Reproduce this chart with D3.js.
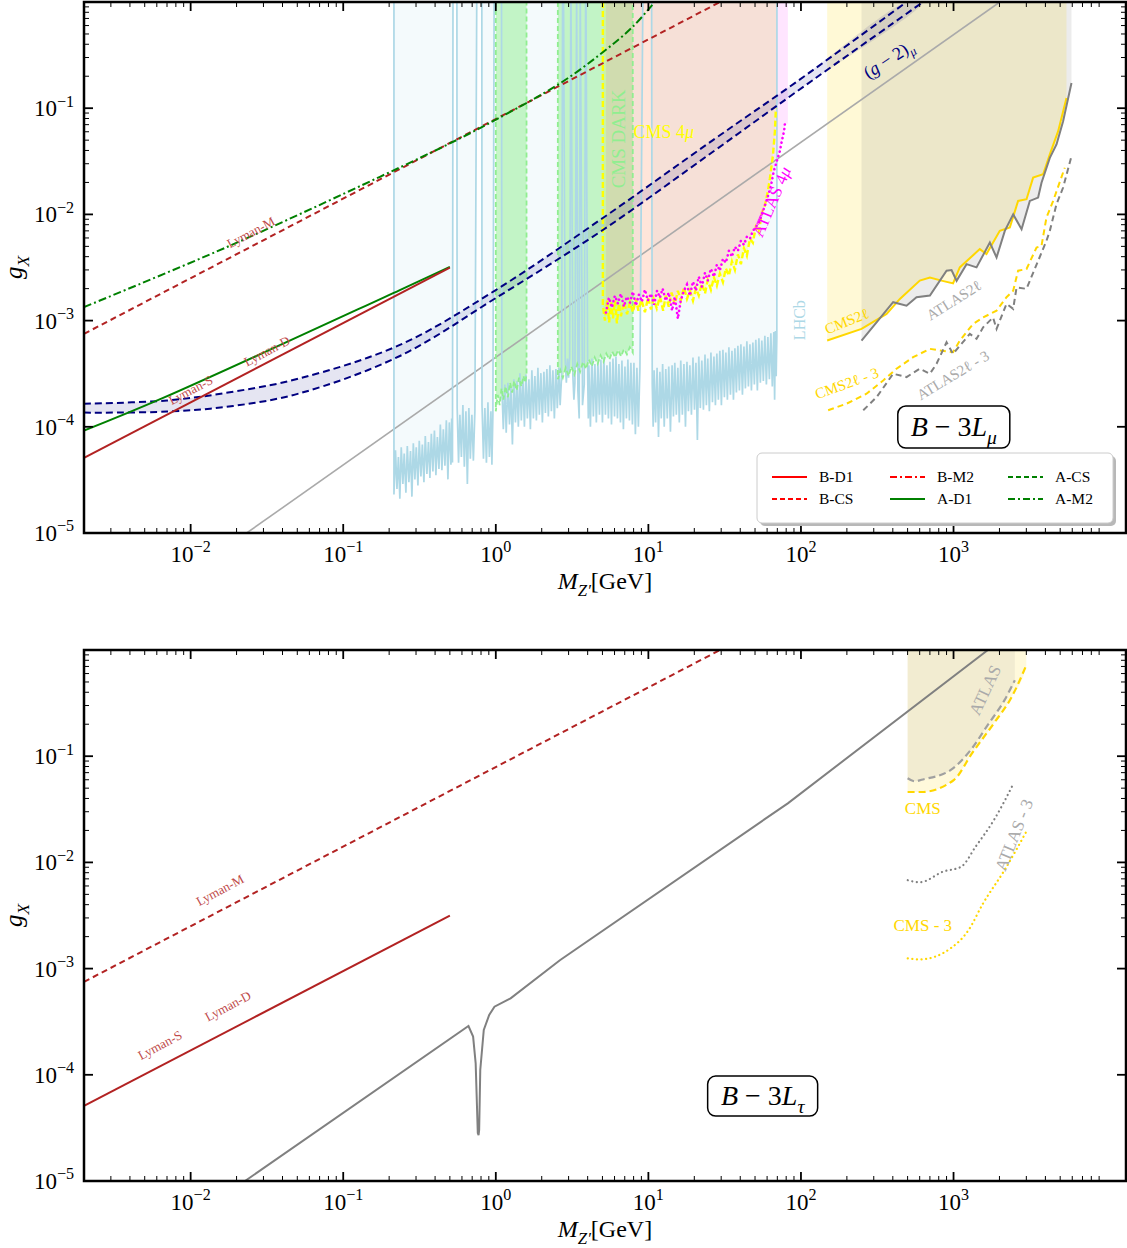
<!DOCTYPE html>
<html>
<head>
<meta charset="utf-8">
<script src="https://cdn.jsdelivr.net/npm/d3@7"></script>
<style>
  body { margin: 0; background: #fff; }
  svg { display: block; font-family: "Liberation Serif", "DejaVu Serif", serif; }
</style>
</head>
<body>
<svg id="chart" width="1127" height="1248"></svg>
<script>
// ---------------- data (mass in GeV, coupling g_X) ----------------
const xTicksMajor = [1e-2, 1e-1, 1, 10, 100, 1000];
const yTicksMajor = [1e-5, 1e-4, 1e-3, 1e-2, 1e-1];

// Lyman-alpha bounds (same in both panels)
const lymanD_B = [[0.002, 5.1e-5], [0.5, 3.15e-3]];
const lymanD_A = [[0.002, 9.2e-5], [0.0066, 1.87e-4], [0.235, 1.94e-3], [0.5, 3.2e-3]];
const lymanM_B = [[0.002, 7.5e-4], [29.5, 1]];
const lymanM_A = [[0.002, 1.34e-3], [0.0173, 4.93e-3], [0.174, 0.0226], [0.553, 0.0501], [1.01, 0.0786],
                  [2.63, 0.171], [4.93, 0.329], [7.9, 0.585], [11.0, 1.0]];

// (g-2)_mu band
const g2Upper = [[0.002, 1.65e-4], [0.007, 1.77e-4], [0.019, 2.14e-4], [0.052, 2.86e-4], [0.235, 5.9e-4],
                 [1.0, 1.94e-3], [5.03, 9.25e-3], [26.5, 0.0501], [93.5, 0.177], [492, 1]];
const g2Lower = [[0.002, 1.36e-4], [0.007, 1.39e-4], [0.019, 1.57e-4], [0.052, 2.07e-4], [0.235, 4.64e-4],
                 [1.0, 1.63e-3], [5.03, 7.13e-3], [26.5, 0.0389], [93.5, 0.143], [631, 1]];
const muGray = [[0.0233, 1e-5], [2010, 1]];

// LHCb dark photon search (noisy limit, spikes go up to 1)
const lhcb = [[0.215,1],[0.215,2.3e-5],[0.22,6.0e-5],[0.225,2.6e-5],[0.23,5.2e-5],[0.235,2.1e-5],[0.24,6.4e-5],
  [0.246,2.9e-5],[0.251,5.6e-5],[0.2575,2.4e-5],[0.263,6.6e-5],[0.2694,3.0e-5],[0.276,5.9e-5],[0.282,2.2e-5],
  [0.288,7.0e-5],[0.295,3.2e-5],[0.301,6.4e-5],[0.3087,2.8e-5],[0.315,7.4e-5],[0.323,3.4e-5],[0.33,6.8e-5],
  [0.338,3.0e-5],[0.345,8.2e-5],[0.3535,3.6e-5],[0.362,7.2e-5],[0.37,3.3e-5],[0.378,8.6e-5],[0.387,3.8e-5],
  [0.396,9.2e-5],[0.405,3.5e-5],[0.414,8.0e-5],[0.424,4.0e-5],[0.433,1.05e-4],[0.4434,3.9e-5],[0.453,9.5e-5],
  [0.464,4.3e-5],[0.474,1.15e-4],[0.4855,3.2e-5],[0.496,1.1e-4],[0.508,4.4e-5],[0.514,1.2e-4],[0.52,4.6e-5],
  [0.524,1],[0.556,1],
  [0.558,1.5e-4],[0.57,4.6e-5],[0.5816,1.3e-4],[0.595,5.2e-5],[0.6086,1.6e-4],[0.622,4.2e-5],[0.637,1.4e-4],
  [0.651,2.9e-5],[0.666,1.5e-4],[0.681,5.0e-5],[0.697,1.3e-4],[0.713,4.8e-5],[0.7295,1.4e-4],
  [0.75,1],[0.81,1],
  [0.812,1.6e-4],[0.83,5.0e-5],[0.848,1.5e-4],[0.868,4.6e-5],[0.888,1.7e-4],[0.908,5.2e-5],[0.929,1.4e-4],
  [0.943,4.4e-5],[0.957,1.3e-4],
  [0.975,1],[1.09,1],
  [1.096,2.3e-4],[1.12,9.5e-5],[1.147,2.5e-4],[1.17,8.8e-5],[1.2,2.6e-4],[1.23,1.05e-4],[1.256,2.4e-4],[1.285,6.8e-5],
  [1.314,2.8e-4],[1.345,1.1e-4],[1.375,2.7e-4],[1.405,1.0e-4],[1.439,3.2e-4],[1.47,1.15e-4],[1.505,2.9e-4],
  [1.54,1.0e-4],[1.575,3.1e-4],[1.61,1.2e-4],[1.648,2.8e-4],[1.685,9.5e-5],[1.724,3.4e-4],[1.764,1.2e-4],
  [1.804,3.0e-4],[1.845,1.15e-4],[1.888,3.6e-4],[1.93,1.3e-4],[1.975,3.2e-4],[2.02,1.1e-4],[2.067,3.3e-4],
  [2.114,1.35e-4],[2.162,3.5e-4],[2.21,1.25e-4],[2.262,3.8e-4],[2.314,1.4e-4],[2.367,3.4e-4],[2.42,1.2e-4],
  [2.477,3.5e-4],[2.53,1.5e-4],[2.592,3.6e-4],[2.64,1.6e-4],[2.7,3.0e-4],
  [2.74,1],[2.78,1],[2.85,4.2e-4],[2.9,2.6e-4],[2.95,4.4e-4],[3.0,2.9e-4],[3.05,4.5e-4],[3.1,1],[3.11,1],
  [3.2,3.0e-4],[3.25,1.8e-4],[3.3,2.6e-4],[3.385,1],[3.39,1],[3.45,2.2e-4],[3.52,1.2e-4],[3.573,1],[3.58,1],
  [3.7,1.6e-4],[3.8,2.5e-4],[3.878,1],[3.9,1],
  [4.0,3.0e-4],[4.04,1.2e-4],[4.075,3.8e-4],[4.17,1.0e-4],[4.265,4.4e-4],[4.36,1.25e-4],[4.462,3.9e-4],[4.56,1.1e-4],
  [4.669,4.0e-4],[4.78,1.3e-4],[4.885,4.3e-4],[5.0,1.1e-4],[5.11,4.5e-4],[5.23,1.3e-4],[5.35,3.8e-4],[5.47,1.2e-4],
  [5.6,4.1e-4],[5.73,1.05e-4],[5.86,4.4e-4],[6.0,1.25e-4],[6.13,4.6e-4],[6.27,1.2e-4],[6.41,3.9e-4],[6.56,1.1e-4],
  [6.71,4.2e-4],[6.86,9.5e-5],[7.02,3.7e-4],[7.18,1.2e-4],[7.34,4.3e-4],[7.51,1.15e-4],[7.68,4.0e-4],[7.86,1.05e-4],
  [8.04,4.0e-4],[8.22,8.5e-5],[8.41,3.6e-4],[8.6,1.0e-4],[8.8,3.5e-4],
  [9.2,1],[10.5,1],
  [10.6,2.5e-4],[10.75,1.0e-4],[10.9,3.4e-4],[11.15,1.1e-4],[11.4,3.6e-4],[11.65,8.0e-5],[11.9,3.3e-4],[12.15,1.2e-4],
  [12.4,3.9e-4],[12.7,1.0e-4],[13.0,3.5e-4],[13.3,1.2e-4],[13.6,3.7e-4],[13.95,9.0e-5],[14.3,3.8e-4],[14.6,1.25e-4],
  [14.9,4.0e-4],[15.25,1.3e-4],[15.6,3.6e-4],[15.95,1.1e-4],[16.3,4.2e-4],[16.7,1.3e-4],[17.1,3.9e-4],[17.5,1.0e-4],
  [17.9,4.1e-4],[18.3,1.4e-4],[18.7,3.8e-4],[19.15,1.3e-4],[19.6,4.5e-4],[20.05,1.45e-4],[20.5,4.0e-4],[20.95,7.5e-5],
  [21.4,4.6e-4],[21.9,1.5e-4],[22.4,4.2e-4],[22.95,1.45e-4],[23.5,4.8e-4],[24.0,1.6e-4],[24.5,4.4e-4],[25.1,1.4e-4],
  [25.7,5.0e-4],[26.3,1.7e-4],[26.9,4.6e-4],[27.5,1.6e-4],[28.1,4.9e-4],[28.75,1.8e-4],[29.4,5.2e-4],[30.1,1.6e-4],
  [30.8,5.3e-4],[31.5,1.9e-4],[32.2,5.0e-4],[32.95,1.8e-4],[33.7,5.6e-4],[34.5,2.0e-4],[35.3,5.2e-4],[36.1,1.8e-4],
  [36.9,5.5e-4],[37.75,2.1e-4],[38.6,5.8e-4],[39.5,2.2e-4],[40.4,6.0e-4],[41.35,2.0e-4],[42.3,5.7e-4],[43.25,2.3e-4],
  [44.2,6.4e-4],[45.25,2.4e-4],[46.3,6.0e-4],[47.35,2.2e-4],[48.4,6.2e-4],[49.5,2.5e-4],[50.6,6.6e-4],[51.8,2.2e-4],
  [53.0,6.8e-4],[54.2,2.6e-4],[55.4,6.5e-4],[56.7,2.7e-4],[58.0,7.2e-4],[59.35,2.5e-4],[60.7,7.0e-4],[62.1,2.8e-4],
  [63.5,7.6e-4],[64.9,2.4e-4],[66.4,7.8e-4],[67.2,1.8e-4],[68.0,8.0e-4],[68.8,3.0e-4],[69.5,7.0e-4],[69.6,1]];

// CMS dark photon (two windows, lower edge)
const cmsDark1 = [[1.0,1.4e-4],[1.03,2.0e-4],[1.06,1.6e-4],[1.09,2.3e-4],[1.12,1.8e-4],[1.16,2.4e-4],[1.2,1.9e-4],
  [1.24,2.6e-4],[1.28,2.1e-4],[1.32,2.7e-4],[1.37,2.2e-4],[1.42,2.9e-4],[1.47,2.4e-4],[1.52,3.0e-4],[1.56,2.6e-4],[1.59,3.1e-4]];
const cmsDark2 = [[2.55,2.8e-4],[2.65,3.4e-4],[2.75,2.9e-4],[2.87,3.6e-4],[3.0,3.0e-4],[3.13,3.7e-4],[3.27,3.1e-4],
  [3.42,3.9e-4],[3.57,3.3e-4],[3.73,4.1e-4],[3.9,3.5e-4],[4.07,4.3e-4],[4.26,3.7e-4],[4.45,4.5e-4],[4.65,3.9e-4],
  [4.86,4.7e-4],[5.08,4.1e-4],[5.3,4.9e-4],[5.55,4.3e-4],[5.8,5.1e-4],[6.06,4.5e-4],[6.33,5.3e-4],[6.62,4.6e-4],
  [6.92,5.4e-4],[7.23,4.8e-4],[7.55,5.6e-4],[7.9,5.0e-4]];

// CMS 4mu and ATLAS 4mu
const cms4mu = [[5.03,1],[5.03,1.38e-3],[5.19,1.0e-3],[5.37,1.54e-3],[5.53,9.6e-4],[5.69,1.48e-3],[5.86,1.05e-3],
  [6.04,1.54e-3],[6.22,9.4e-4],[6.41,1.45e-3],[6.61,1.1e-3],[6.92,1.5e-3],[7.25,1.15e-3],[7.57,1.48e-3],[7.92,1.2e-3],
  [8.29,1.6e-3],[8.6,1.24e-3],[9.0,1.57e-3],[9.49,1.2e-3],[9.95,1.65e-3],[10.4,1.27e-3],[10.8,1.6e-3],[11.35,1.3e-3],
  [11.9,1.68e-3],[12.5,1.24e-3],[13.0,1.72e-3],[13.6,1.35e-3],[14.2,1.84e-3],[14.9,1.42e-3],[15.6,1.91e-3],
  [16.3,1.54e-3],[17.1,2.05e-3],[17.9,1.6e-3],[18.7,1.91e-3],[19.6,1.54e-3],[20.5,2.0e-3],[21.4,1.72e-3],
  [22.4,2.23e-3],[23.5,1.8e-3],[24.5,2.4e-3],[25.7,1.95e-3],[26.9,2.55e-3],[28.1,2.13e-3],[29.4,2.77e-3],
  [30.8,2.3e-3],[32.2,3.1e-3],[33.7,2.65e-3],[35.3,3.6e-3],[36.9,3.0e-3],[38.6,4.2e-3],[40.4,3.4e-3],[42.3,4.8e-3],
  [44.2,4.08e-3],[46.3,5.9e-3],[48.4,5.4e-3],[50.6,7.6e-3],[53.0,6.7e-3],[55.4,0.0105],[58.0,0.0121],[60.7,0.0166],
  [62.6,0.0219],[65.5,0.0357],[67.5,0.0608],[68.5,0.1]];
const atlas4mu = [[5.27,1.19e-3],[5.51,1.645e-3],[5.77,1.325e-3],[6.03,1.717e-3],[6.31,1.444e-3],[6.6,1.793e-3],
  [6.91,1.354e-3],[7.23,1.68e-3],[7.57,1.476e-3],[7.91,1.873e-3],[8.28,1.383e-3],[8.67,1.755e-3],[9.07,1.508e-3],
  [9.49,1.956e-3],[9.92,1.541e-3],[10.4,1.793e-3],[10.9,1.413e-3],[11.4,1.914e-3],[11.9,1.645e-3],[12.4,1.999e-3],
  [13.0,1.541e-3],[13.6,1.833e-3],[14.3,1.241e-3],[14.9,1.68e-3],[15.6,1.04e-3],[16.3,1.541e-3],[17.1,1.914e-3],
  [17.9,2.18e-3],[18.7,1.717e-3],[19.6,2.33e-3],[20.5,1.914e-3],[21.4,2.59e-3],[22.4,2.088e-3],[23.5,2.82e-3],
  [24.5,2.38e-3],[25.7,3.08e-3],[26.9,2.59e-3],[28.1,3.36e-3],[29.4,2.95e-3],[30.8,3.82e-3],[32.2,3.51e-3],
  [33.7,4.54e-3],[35.3,3.99e-3],[36.9,4.95e-3],[38.6,4.54e-3],[40.4,5.64e-3],[42.3,5.17e-3],[44.2,6.15e-3],
  [46.3,5.89e-3],[48.4,7.0e-3],[50.6,7.63e-3],[53.0,8.32e-3],[55.4,9.9e-3],[58.0,0.0121],[60.7,0.0148],
  [63.5,0.0184],[66.4,0.0256],[69.5,0.0318],[72.7,0.0394],[74.9,0.049],[77.5,0.0608],[78.5,0.0713]];

// dilepton searches, B-3L_mu
const cms2l = [[148.5,6.49e-4],[249.5,8.36e-4],[364,1.156e-3],[445,1.6e-3],[601,2.38e-3],[700,2.55e-3],[834,2.38e-3],
  [993,2.24e-3],[1099,3.17e-3],[1486,4.71e-3],[1644,4.23e-3],[2010,7.0e-3],[2338,7.52e-3],[2650,0.0134],[3008,0.0139],
  [3324,0.0222],[3866,0.0239],[4276,0.0367],[4850,0.0608],[5500,0.125]];
const atlas2l = [[249.5,6.49e-4],[402,1.49e-3],[492,1.38e-3],[572,1.66e-3],[700,1.72e-3],[900,2.95e-3],[970,2.99e-3],
  [1047,2.37e-3],[1217,3.4e-3],[1415,3.17e-3],[1730,5.44e-3],[1914,3.93e-3],[2168,7.0e-3],[2460,0.01],[2792,7.26e-3],
  [3162,0.0134],[3584,0.0144],[3772,0.0199],[4276,0.0341],[4730,0.0456],[5226,0.0755],[5930,0.173]];
const cms2l3 = [[150.7,1.43e-4],[199,1.65e-4],[269,2.05e-4],[346,2.73e-4],[423,3.52e-4],[543,4.52e-4],[700,5.42e-4],
  [813,5.23e-4],[993,5.04e-4],[1099,6.49e-4],[1343,9.3e-4],[1563,1.07e-3],[1914,1.24e-3],[2224,1.66e-3],[2460,1.91e-3],
  [2650,2.95e-3],[3008,3.06e-3],[3500,4.88e-3],[3772,5.06e-3],[4064,9.33e-3],[4498,0.0134],[5358,0.0275]];
const atlas2l3 = [[256,1.43e-4],[313,1.9e-4],[402,3.16e-4],[492,2.94e-4],[601,3.52e-4],[700,3.16e-4],[774,3.92e-4],
  [900,6.25e-4],[993,4.87e-4],[1279,7.5e-4],[1415,6.73e-4],[1563,8.65e-4],[1816,1.07e-3],[1914,8.36e-4],[2224,1.44e-3],
  [2460,1.29e-3],[2588,2.05e-3],[3008,1.99e-3],[4064,5.64e-3],[4276,7.0e-3],[4730,0.0125],[5226,0.0179],[5930,0.0354]];

// B-3L_tau panel
const tauGray = [[0.0227,1e-5],[0.662,2.88e-4],[0.71,2.29e-4],[0.738,1.28e-4],[0.762,2.83e-5],[0.771,2.71e-5],
  [0.778,3.02e-5],[0.791,1.11e-4],[0.834,2.64e-4],[0.905,3.66e-4],[0.98,4.38e-4],[1.25,5.25e-4],[2.63,1.2e-3],
  [82,0.036],[1680,1]];
const cmsTau = [[500,0.046],[617,0.046],[1008,0.06],[1324,0.107],[1837,0.204],[2410,0.363],[3000,0.72]];
const atlasTau = [[500,0.062],[560,0.058],[617,0.06],[955,0.074],[1324,0.119],[1648,0.19],[2163,0.339],[2523,0.52]];
const cmsTau3 = [[501,1.25e-3],[600,1.22e-3],[955,1.55e-3],[1253,2.3e-3],[1560,4.1e-3],[2163,8.5e-3],[3000,0.0195]];
const atlasTau3 = [[501,6.8e-3],[601,6.5e-3],[857,8.2e-3],[1122,9.1e-3],[1397,0.0141],[1837,0.025],[2477,0.0556]];

const legendItems = [
  { label: 'B-D1', color: '#ff0000', dash: null },
  { label: 'B-M2', color: '#ff0000', dash: '7,3,2,3' },
  { label: 'A-CS', color: '#008000', dash: '5,3' },
  { label: 'B-CS', color: '#ff0000', dash: '5,3' },
  { label: 'A-D1', color: '#008000', dash: null },
  { label: 'A-M2', color: '#008000', dash: '7,3,2,3' }
];

// ---------------- layout ----------------
const left = 84, right = 1126;
const svg = d3.select('#chart');
const x = d3.scaleLog().domain([2e-3, 1.35e4]).range([left, right]);

const BROWN = '#b22222', GREEN = '#008000';

// write text with italic / sub / sup pieces
function rich(sel, parts, size) {
  let shift = 0;
  parts.forEach(p => {
    const target = p.sub ? size * 0.28 : p.sup ? -size * 0.42 : 0;
    const t = sel.append('tspan').text(p.t).attr('dy', target - shift);
    shift = target;
    if (p.sub || p.sup) t.attr('font-size', size * 0.7);
    if (p.i) t.attr('font-style', 'italic');
  });
}

function makePanel(id, top, bottom) {
  const y = d3.scaleLog().domain([1e-5, 1]).range([bottom, top]);
  svg.append('clipPath').attr('id', 'clip-' + id)
    .append('rect').attr('x', left).attr('y', top).attr('width', right - left).attr('height', bottom - top);
  const g = svg.append('g').attr('clip-path', 'url(#clip-' + id + ')');
  const line = d3.line().x(d => x(d[0])).y(d => y(d[1]));
  return { y, g, line, top, bottom };
}

function toTop(pts) {
  return pts.concat([[pts[pts.length - 1][0], 1], [pts[0][0], 1]]);
}

function drawLine(p, pts, color, width, dash, curve) {
  const ln = p.line.curve(curve || d3.curveLinear);
  const path = p.g.append('path').attr('d', ln(pts)).attr('fill', 'none')
    .attr('stroke', color).attr('stroke-width', width);
  if (dash) path.attr('stroke-dasharray', dash);
  p.line.curve(d3.curveLinear);
  return path;
}

function drawFill(p, pts, color, opacity, curve) {
  const ln = p.line.curve(curve || d3.curveLinear);
  p.g.append('path').attr('d', ln(pts) + 'Z').attr('fill', color).attr('fill-opacity', opacity).attr('stroke', 'none');
  p.line.curve(d3.curveLinear);
}

function drawAxes(p) {
  const ax = svg.append('g');
  const minorX = [], minorY = [];
  for (let e = -3; e <= 4; e++) for (let k = 2; k <= 9; k++) {
    const v = k * Math.pow(10, e);
    if (v > 2e-3 && v < 1.35e4) minorX.push(v);
    if (v > 1e-5 && v < 1) minorY.push(v);
  }
  const tick = (x1, y1, x2, y2, w) => ax.append('line').attr('x1', x1).attr('y1', y1).attr('x2', x2).attr('y2', y2)
    .attr('stroke', '#000').attr('stroke-width', w);
  minorX.forEach(v => { tick(x(v), p.bottom, x(v), p.bottom - 5, 1); tick(x(v), p.top, x(v), p.top + 5, 1); });
  xTicksMajor.forEach(v => { tick(x(v), p.bottom, x(v), p.bottom - 9, 1.8); tick(x(v), p.top, x(v), p.top + 9, 1.8); });
  minorY.forEach(v => { tick(left, p.y(v), left + 5, p.y(v), 1); tick(right, p.y(v), right - 5, p.y(v), 1); });
  yTicksMajor.concat([1]).forEach(v => { tick(left, p.y(v), left + 9, p.y(v), 1.8); tick(right, p.y(v), right - 9, p.y(v), 1.8); });

  ax.append('rect').attr('x', left).attr('y', p.top).attr('width', right - left).attr('height', p.bottom - p.top)
    .attr('fill', 'none').attr('stroke', '#000').attr('stroke-width', 2.5);

  const expo = v => { const e = Math.round(Math.log10(v)); return e < 0 ? '\u2212' + (-e) : String(e); };
  xTicksMajor.forEach(v => {
    const t = ax.append('text').attr('x', x(v)).attr('y', p.bottom + 29).attr('text-anchor', 'middle').attr('font-size', 23);
    rich(t, [{ t: '10' }, { t: expo(v), sup: true }], 23);
  });
  yTicksMajor.forEach(v => {
    const t = ax.append('text').attr('x', 74).attr('y', p.y(v) + 8).attr('text-anchor', 'end').attr('font-size', 23);
    rich(t, [{ t: '10' }, { t: expo(v), sup: true }], 23);
  });
  const xl = ax.append('text').attr('x', (left + right) / 2).attr('y', p.bottom + 56).attr('text-anchor', 'middle').attr('font-size', 24);
  rich(xl, [{ t: 'M', i: true }, { t: "Z\u2032", i: true, sub: true }, { t: '[GeV]' }], 24);
  const yl = ax.append('text').attr('transform', 'translate(22,' + ((p.top + p.bottom) / 2) + ') rotate(-90)')
    .attr('text-anchor', 'middle').attr('font-size', 25);
  rich(yl, [{ t: 'g', i: true }, { t: 'X', i: true, sub: true }], 25);
}

function label(p, txt, m, gx, rot, color, size) {
  const t = svg.append('text')
    .attr('transform', 'translate(' + x(m) + ',' + p.y(gx) + ') rotate(' + rot + ')')
    .attr('text-anchor', 'middle').attr('dy', '0.35em').attr('font-size', size).attr('fill', color);
  if (typeof txt === 'string') t.text(txt); else rich(t, txt, size);
  return t;
}

function modelBox(p, m, gx, parts, w, h) {
  const cx = x(m), cy = p.y(gx);
  svg.append('rect').attr('x', cx - w / 2).attr('y', cy - h / 2).attr('width', w).attr('height', h)
    .attr('rx', 8).attr('fill', '#fff').attr('stroke', '#000').attr('stroke-width', 1.5);
  const t = svg.append('text').attr('x', cx).attr('y', cy + 9).attr('text-anchor', 'middle').attr('font-size', 28);
  rich(t, parts, 28);
}

// ---------------- top panel: B - 3L_mu ----------------
const P1 = makePanel('mu', 2, 533);

drawFill(P1, toTop(lhcb), '#add8e6', 0.13);
[cmsDark1, cmsDark2].forEach(d => drawFill(P1, toTop(d), '#90ee90', 0.5));
drawFill(P1, cms4mu.concat([[69.5, 0.1], [69.5, 1]]), '#ffff00', 0.16);
drawFill(P1, atlas4mu.concat([[82.1, 0.0713], [82.1, 1], [5.27, 1]]), '#ff00ff', 0.1);
drawFill(P1, toTop(cms2l), '#ffd700', 0.16);
drawFill(P1, toTop(atlas2l), '#808080', 0.15);
drawFill(P1, g2Upper.concat(g2Lower.slice().reverse()), '#000080', 0.1, d3.curveCatmullRom);

drawLine(P1, muGray, '#aaaaaa', 1.6);
drawLine(P1, lhcb, '#add8e6', 1.7);
[cmsDark1, cmsDark2].forEach(d => {
  const outline = [[d[0][0], 1]].concat(d, [[d[d.length - 1][0], 1]]);
  drawLine(P1, outline, '#90ee90', 1.8, '5,3');
});
drawLine(P1, cms4mu, '#ffff00', 2.4, '6,3');
drawLine(P1, atlas4mu, '#ff00ff', 2.6, '0.1,4.5').attr('stroke-linecap', 'round');
drawLine(P1, cms2l, '#ffd700', 2);
drawLine(P1, atlas2l, '#808080', 2);
drawLine(P1, cms2l3, '#ffd700', 2, '6,4');
drawLine(P1, atlas2l3, '#808080', 2, '6,4');
drawLine(P1, g2Upper, '#000080', 2, '7,4', d3.curveCatmullRom);
drawLine(P1, g2Lower, '#000080', 2, '7,4', d3.curveCatmullRom);
drawLine(P1, lymanM_B, BROWN, 2, '6,4');
drawLine(P1, lymanM_A, GREEN, 2, '8,3,2,3', d3.curveCatmullRom);
drawLine(P1, lymanD_A, GREEN, 2, null, d3.curveCatmullRom);
drawLine(P1, lymanD_B, BROWN, 2);

drawAxes(P1);

label(P1, 'Lyman-M', 0.0248, 6.8e-3, -28, '#c04a4a', 13);
label(P1, 'Lyman-S', 0.01, 2.22e-4, -28, '#c04a4a', 13);
label(P1, 'Lyman-D', 0.0316, 5.18e-4, -28, '#c04a4a', 13);
label(P1, 'CMS DARK', 6.31, 0.0513, -90, '#90ee90', 19);
label(P1, [{ t: 'CMS 4' }, { t: '\u03bc', i: true }], 12.6, 0.0524, 0, '#ffff00', 18);
label(P1, [{ t: 'ATLAS 4' }, { t: '\u03bc', i: true }], 69.5, 0.01253, -67, '#ff00ff', 17);
label(P1, 'LHCb', 98.4, 1.01e-3, -90, '#add8e6', 16);
label(P1, 'CMS2\u2113', 199.6, 9.9e-4, -22, '#ffd700', 15);
label(P1, 'ATLAS2\u2113', 1004, 1.56e-3, -32, '#aaaaaa', 15);
label(P1, 'CMS2\u2113 - 3', 199.6, 2.58e-4, -20, '#ffd700', 15);
label(P1, 'ATLAS2\u2113 - 3', 989, 3.07e-4, -31, '#aaaaaa', 15);
label(P1, [{ t: '(' }, { t: 'g', i: true }, { t: ' \u2212 2)' }, { t: '\u03bc', i: true, sub: true }], 393.6, 0.26, -33, '#000080', 18);

modelBox(P1, 1004, 9.95e-5, [{ t: 'B', i: true }, { t: ' \u2212 3' }, { t: 'L', i: true }, { t: '\u03bc', i: true, sub: true }], 112, 42);

// legend
const lg = svg.append('g');
lg.append('rect').attr('x', 760).attr('y', 456).attr('width', 356).attr('height', 70).attr('rx', 5).attr('fill', '#b8b8b8');
lg.append('rect').attr('x', 757).attr('y', 453).attr('width', 356).attr('height', 70).attr('rx', 5)
  .attr('fill', '#fff').attr('stroke', '#cccccc').attr('stroke-width', 1);
legendItems.forEach((it, i) => {
  const lx = 772 + (i % 3) * 118, ly = 477 + Math.floor(i / 3) * 22;
  const ln = lg.append('line').attr('x1', lx).attr('x2', lx + 35).attr('y1', ly).attr('y2', ly)
    .attr('stroke', it.color).attr('stroke-width', 2);
  if (it.dash) ln.attr('stroke-dasharray', it.dash);
  lg.append('text').attr('x', lx + 47).attr('y', ly + 5).attr('font-size', 15.5).text(it.label);
});

// ---------------- bottom panel: B - 3L_tau ----------------
const P2 = makePanel('tau', 650, 1181);

drawFill(P2, toTop(cmsTau), '#ffd700', 0.14, d3.curveMonotoneX);
drawFill(P2, toTop(atlasTau), '#808080', 0.1, d3.curveMonotoneX);
drawLine(P2, tauGray, '#808080', 2);
drawLine(P2, cmsTau, '#ffd700', 2.2, '7,4', d3.curveMonotoneX);
drawLine(P2, atlasTau, '#a0a0a0', 2.2, '7,4', d3.curveMonotoneX);
drawLine(P2, cmsTau3, '#ffd700', 2.2, '0.1,4.5', d3.curveMonotoneX).attr('stroke-linecap', 'round');
drawLine(P2, atlasTau3, '#808080', 2.2, '0.1,4.5', d3.curveMonotoneX).attr('stroke-linecap', 'round');
drawLine(P2, lymanM_B, BROWN, 2, '6,4');
drawLine(P2, lymanD_B, BROWN, 2);

drawAxes(P2);

label(P2, 'Lyman-M', 0.01556, 5.5e-3, -28, '#c04a4a', 13);
label(P2, 'Lyman-S', 6.29e-3, 1.91e-4, -28, '#c04a4a', 13);
label(P2, 'Lyman-D', 0.01756, 4.45e-4, -28, '#c04a4a', 13);
label(P2, 'CMS', 628.6, 0.0325, 0, '#ffd700', 17);
label(P2, 'ATLAS', 1603, 0.42, -65, '#aaaaaa', 17);
label(P2, 'ATLAS - 3', 2484, 0.0181, -68, '#aaaaaa', 17);
label(P2, 'CMS - 3', 628.6, 2.57e-3, 0, '#ffd700', 17);

modelBox(P2, 56.1, 6.3e-5, [{ t: 'B', i: true }, { t: ' \u2212 3' }, { t: 'L', i: true }, { t: '\u03c4', i: true, sub: true }], 110, 40);
</script>
</body>
</html>
